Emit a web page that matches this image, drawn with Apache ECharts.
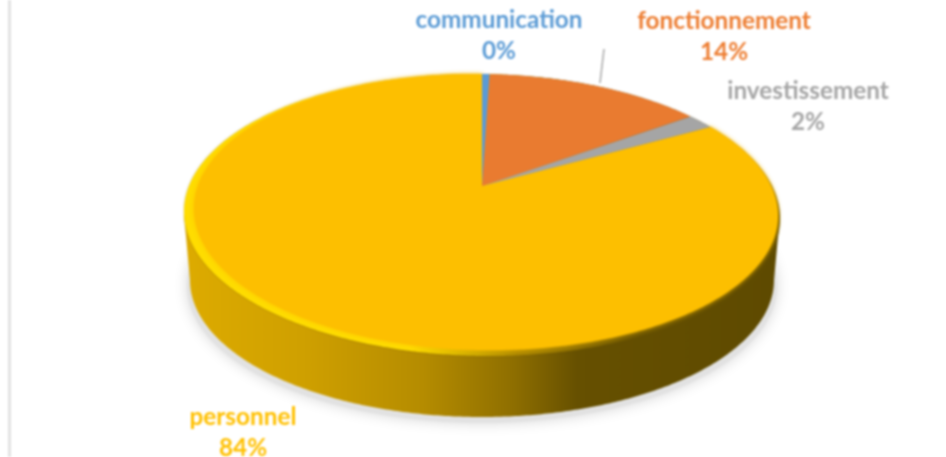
<!DOCTYPE html>
<html>
<head>
<meta charset="utf-8">
<style>
  html, body { margin: 0; padding: 0; background: #fff; }
  #main { width: 946px; height: 457px; filter: blur(0.8px); }
</style>
</head>
<body>
<div id="main"></div>
<script src="https://cdn.jsdelivr.net/npm/echarts@6/dist/echarts.min.js"></script>
<script>
var categories = ['communication', 'fonctionnement', 'investissement', 'personnel'];
var values = [0.49, 14.21, 1.8, 83.5];

var sliceColors = ['#5B9BD5', '#E97B30', '#A5A5A5', '#FDBF00'];
var labelColors = ['#5B9BD5', '#ED7D31', '#A5A5A5', '#FFC000'];
var labelCenters = [[499, 36], [724, 37], [808, 107], [243, 433]];

// disc geometry of the tilted pie
var topDisc = { cx: 482, cy: 212, rxLeft: 288, rxRight: 296, ry: 138 };
var rimDisc = { cx: 482, cy: 215, rx: 298, ry: 141 };
var baseDisc = { cx: 482, cy: 280, rx: 292, ry: 137 };
var apexY = 186;
var tilt = 0.012;

var total = values.reduce(function (a, b) { return a + b; }, 0);

function ellipsePts(d, from, to, skew) {
  var pts = [];
  var n = Math.ceil(Math.abs(to - from) / 0.01);
  for (var i = 0; i <= n; i++) {
    var t = from + (to - from) * i / n;
    var dx = d.rx * Math.cos(t);
    pts.push([d.cx + dx, d.cy + d.ry * Math.sin(t) + (skew || 0) * dx]);
  }
  return pts;
}

// perspective: the circle stays an ellipse but its centre moves to the apex
function project(angle) {
  var a = (topDisc.cy - apexY) / topDisc.ry;
  var u = Math.sin(angle);
  var v = Math.cos(angle);
  var w = 1 + a * v;
  var dx = (u < 0 ? topDisc.rxLeft : topDisc.rxRight) * u * Math.sqrt(1 - a * a) / w;
  return [
    topDisc.cx + dx,
    topDisc.cy - topDisc.ry * (v + a) / w + tilt * dx
  ];
}

function hGrad(stops) {
  return new echarts.graphic.LinearGradient(184, 0, 780, 0, stops, true);
}

var sideFill = hGrad([
  { offset: 0, color: '#DDAB00' },
  { offset: 0.2, color: '#CFA000' },
  { offset: 0.4, color: '#B58C00' },
  { offset: 0.55, color: '#8F6F00' },
  { offset: 0.66, color: '#665000' },
  { offset: 1, color: '#5E4A00' }
]);
var rimFill = hGrad([
  { offset: 0, color: '#FFDC00' },
  { offset: 0.38, color: '#FFDC00' },
  { offset: 0.56, color: '#B08A00' },
  { offset: 0.76, color: '#6B5400' },
  { offset: 1, color: '#5E4A00' }
]);

function renderBody(params, api) {
  return {
    type: 'group',
    children: [
      {
        type: 'polygon',
        shape: { points: ellipsePts({ cx: 482, cy: 286, rx: 295, ry: 137 }, 0, Math.PI * 2) },
        style: { fill: '#E2E2E2', shadowBlur: 14, shadowColor: '#D8D8D8' }
      },
      {
        type: 'polygon',
        shape: { points: ellipsePts(baseDisc, Math.PI, 0).concat([[780, 215], [184, 215]]) },
        style: { fill: sideFill }
      },
      {
        type: 'polygon',
        shape: { points: ellipsePts(rimDisc, 0, Math.PI * 2, tilt) },
        style: { fill: rimFill, shadowBlur: 2, shadowColor: 'rgba(90,70,0,0.4)' }
      }
    ]
  };
}

function renderSlice(params, api) {
  var idx = params.dataIndex;
  var before = 0;
  for (var i = 0; i < idx; i++) before += values[i];
  var start = before / total * Math.PI * 2;
  var end = (before + api.value(0)) / total * Math.PI * 2;
  var pts = [[topDisc.cx, apexY]];
  var n = Math.max(2, Math.ceil((end - start) / 0.01));
  for (var k = 0; k <= n; k++) {
    pts.push(project(start + (end - start) * k / n));
  }
  var c = labelCenters[idx];
  return {
    type: 'group',
    children: [
      {
        type: 'polygon',
        z2: 10 - idx,
        shape: { points: pts },
        style: { fill: sliceColors[idx], shadowBlur: idx === 3 ? 4 : 0, shadowColor: sliceColors[idx] }
      },
      {
        type: 'text',
        z2: 20,
        style: {
          x: c[0],
          y: c[1],
          text: categories[idx] + '\n' + Math.round(api.value(0) / total * 100) + '%',
          fill: labelColors[idx],
          font: 'bold 24.3px Lato',
          lineHeight: 31,
          align: 'center',
          verticalAlign: 'middle'
        }
      }
    ]
  };
}

var chart = echarts.init(document.getElementById('main'), null, { renderer: 'canvas' });

chart.setOption({
  backgroundColor: '#fff',
  animation: false,
  graphic: [
    { type: 'rect', z: 10, shape: { x: 8, y: 0, width: 3, height: 457 }, style: { fill: '#E2E2E2' } },
    { type: 'line', z: 10, shape: { x1: 604, y1: 49, x2: 600, y2: 83 }, style: { stroke: '#A6A6A6', lineWidth: 1.5 } }
  ],
  series: [
    {
      type: 'custom',
      coordinateSystem: 'none',
      silent: true,
      data: [0],
      renderItem: renderBody,
      z: 1
    },
    {
      type: 'custom',
      coordinateSystem: 'none',
      silent: true,
      data: values.map(function (v) { return [v]; }),
      renderItem: renderSlice,
      z: 2
    }
  ]
});
</script>
</body>
</html>
